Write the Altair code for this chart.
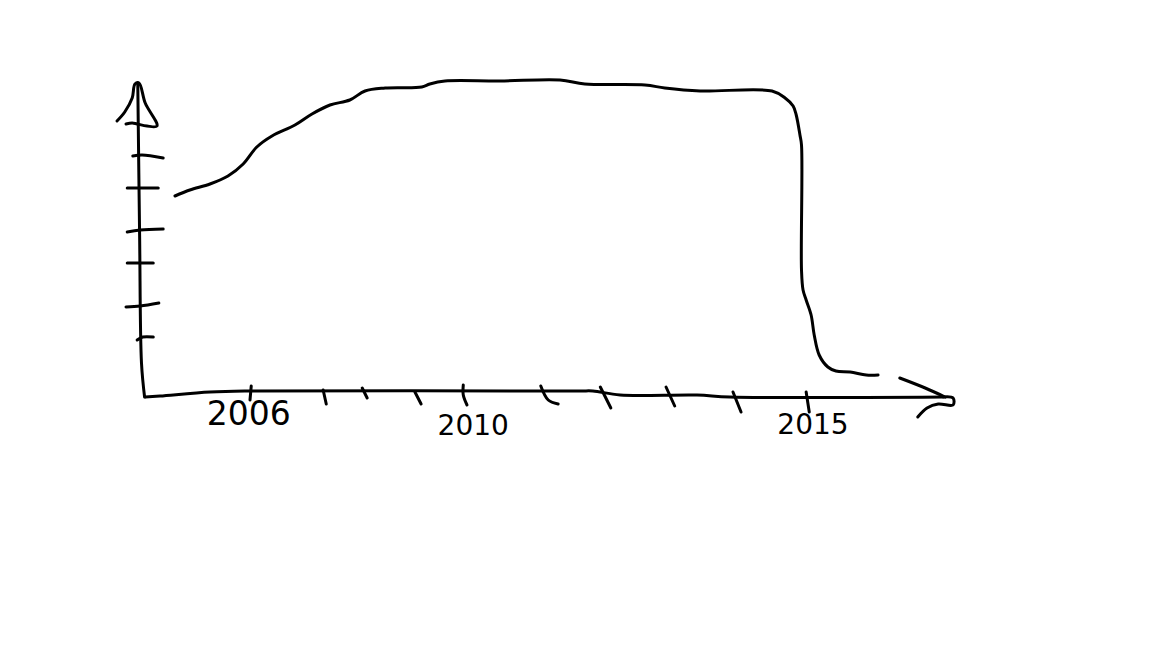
import altair as alt
import pandas as pd

# Hand-sketched chart: each stroke is (offset from 2006 in years, value)
curve_years = [-1.21,-.97,-.645,-.355,-.11,.11,.355,.725,1.0,1.29,1.61,1.855,2.18,2.77,2.90,3.145,4.03,5.0,5.40,6.37,6.69,7.26,8.42,8.63,8.76,8.81,8.87,8.895,8.895,8.92,8.97,9.05,9.10,9.18,9.32,9.45,9.68,9.94,10.13]
curve_values = [4.02,4.14,4.26,4.42,4.66,5.0,5.22,5.44,5.66,5.84,5.94,6.12,6.18,6.20,6.26,6.32,6.32,6.34,6.26,6.24,6.18,6.12,6.12,5.98,5.82,5.64,5.24,5.04,2.54,2.14,1.94,1.64,1.24,.84,.60,.52,.50,.44,.44]
tail_years = [10.48,10.89,11.21]
tail_values = [.38,.18,0]

x_axis_years = [-1.69,-1.45,-.645,0,5.32,5.53,5.97,7.21,7.74,11.18]
x_axis_values = [0,.02,.10,.12,.12,.12,.04,.04,0,0]
x_arrow_years = [10.77,10.92,11.10,11.34,11.34,11.18]
x_arrow_values = [-.40,-.22,-.14,-.16,-.02,0]

y_axis_years = [-1.81,-1.78,-1.75,-1.70]
y_axis_values = [6.28,3.20,.68,0]
y_arrow_years = [-2.145,-2.02,-1.90,-1.855,-1.79,-1.69,-1.50,-1.66,-1.82,-1.90,-2.0]
y_arrow_values = [5.52,5.70,5.98,6.26,6.28,5.88,5.42,5.42,5.46,5.48,5.46]

y_ticks = [
    ([-1.89,-1.74,-1.40],[4.82,4.84,4.78]),
    ([-1.98,-1.48],[4.18,4.18]),
    ([-1.98,-1.77,-1.40],[3.30,3.34,3.36]),
    ([-1.98,-1.56],[2.68,2.68]),
    ([-2.0,-1.77,-1.47],[1.80,1.82,1.88]),
    ([-1.82,-1.73,-1.56],[1.14,1.20,1.20]),
]
x_ticks = [
    ([.02,0],[.22,-.06]),
    ([1.18,1.23],[.14,-.14]),
    ([1.81,1.89],[.18,-.02]),
    ([2.66,2.76],[.10,-.14]),
    ([3.44,3.44,3.50],[.24,.04,-.16]),
    ([4.69,4.81,4.97],[.22,-.06,-.14]),
    ([5.65,5.82],[.20,-.22]),
    ([6.71,6.85],[.20,-.18]),
    ([7.79,7.92],[.10,-.30]),
    ([8.97,9.02],[.10,-.30]),
]

label_texts = ["2006", "2010", "2015"]
label_years = [-.02, 3.6, 9.08]
label_values = [-.36, -.60, -.58]
label_sizes = [33, 28, 28]

strokes = [(curve_years, curve_values), (tail_years, tail_values),
           (x_axis_years, x_axis_values), (x_arrow_years, x_arrow_values),
           (y_axis_years, y_axis_values), (y_arrow_years, y_arrow_values)] + y_ticks + x_ticks

rows = []
for sid, (xs, ys) in enumerate(strokes):
    for i, (a, b) in enumerate(zip(xs, ys)):
        rows.append({"stroke": sid, "i": i, "year": 2006 + a, "value": b})
df = pd.DataFrame(rows)
labels = pd.DataFrame({"text": label_texts, "year": [2006 + a for a in label_years],
                       "value": label_values, "size": label_sizes})

x_scale = alt.Scale(domain=[2002.097, 2020.419], nice=False, zero=False)
y_scale = alt.Scale(domain=[-4.86, 7.78], nice=False, zero=False)

lines = alt.Chart(df).mark_line(color="black", strokeWidth=3, strokeCap="round",
                                strokeJoin="round", clip=False,
                                interpolate="catmull-rom").encode(
    x=alt.X("year:Q", scale=x_scale, axis=None),
    y=alt.Y("value:Q", scale=y_scale, axis=None),
    detail="stroke:N",
    order="i:Q",
)
text = alt.Chart(labels).mark_text(font="DejaVu Sans", color="black", align="center",
                                   baseline="middle").encode(
    x=alt.X("year:Q", scale=x_scale, axis=None),
    y=alt.Y("value:Q", scale=y_scale, axis=None),
    text="text:N",
    size=alt.Size("size:Q", scale=None, legend=None),
)

chart = (lines + text).properties(
    width=1136, height=632, padding=0, background="white",
    autosize=alt.AutoSizeParams(type="none"),
).configure_view(stroke=None)

chart.save("out.html", embed_options={"renderer": "svg", "actions": False})
